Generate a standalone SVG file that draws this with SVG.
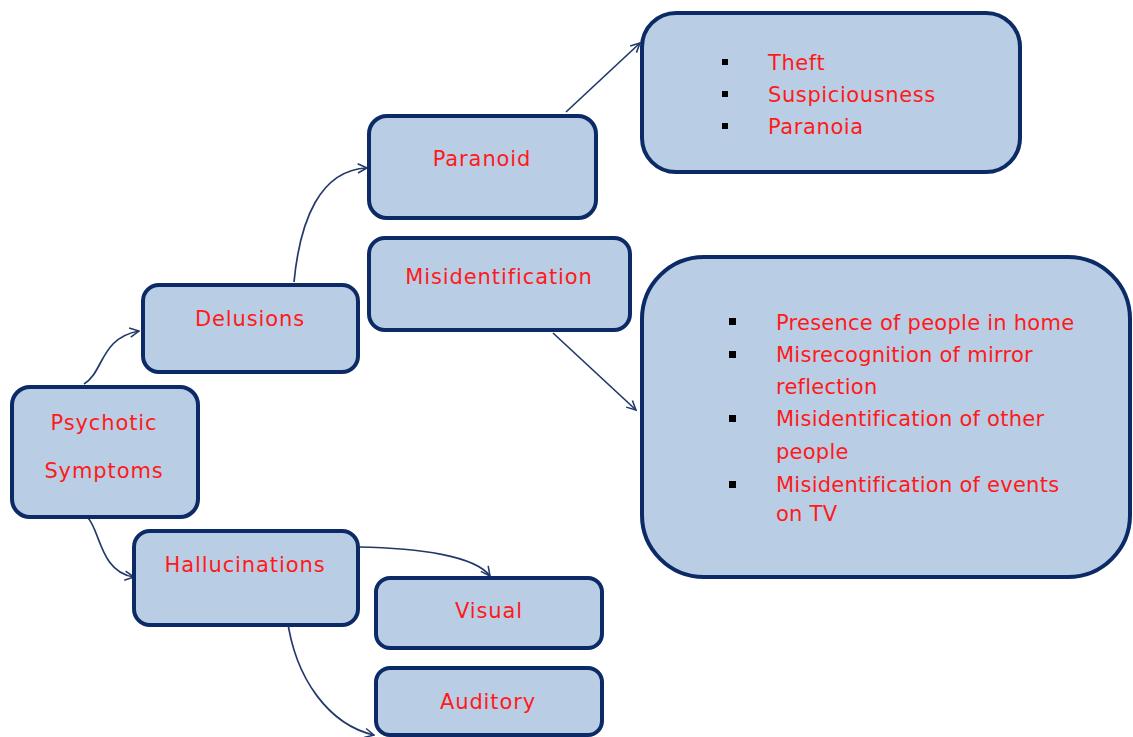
<svg xmlns="http://www.w3.org/2000/svg" width="1133" height="737" viewBox="0 0 1133 737">
  <style>
    .box { fill: #b9cde5; stroke: #0c2b66; stroke-width: 4; }
    .lbl { font-family: "DejaVu Sans", Verdana, sans-serif; font-size: 21px; fill: #ff1a1a; letter-spacing: 0.9px; text-anchor: middle; }
    .item { font-family: "DejaVu Sans", Verdana, sans-serif; font-size: 21px; fill: #ff1a1a; letter-spacing: 0.25px; }
    .wide { letter-spacing: 0.6px; }
    .bullet { fill: #000; }
    .conn { fill: none; stroke: #23396a; stroke-width: 1.7; marker-end: url(#arrow); }
  </style>
  <defs>
    <marker id="arrow" viewBox="0 0 12 12" refX="11" refY="6" markerWidth="11" markerHeight="11" markerUnits="userSpaceOnUse" orient="auto">
      <path d="M1,1 L11,6 L1,11" fill="none" stroke="#23396a" stroke-width="1.7"/>
    </marker>
  </defs>
  <rect width="1133" height="737" fill="#ffffff"/>

  <g id="connectors">
    <path class="conn" d="M84,384 C104,372 100,338 139,331"/>
    <path class="conn" d="M294,282 C300,220 320,170 367,168"/>
    <path class="conn" d="M566,112 L640,43"/>
    <path class="conn" d="M553,333 L636,410"/>
    <path class="conn" d="M88,518 C100,530 100,572 134,577"/>
    <path class="conn" d="M358,547 C420,548 475,556 490,576"/>
    <path class="conn" d="M287,617 C295,680 330,725 374,735"/>
  </g>

  <g id="psychotic-symptoms">
    <rect class="box" x="12" y="387" width="186" height="130" rx="18"/>
    <text class="lbl" x="104" y="430">Psychotic</text>
    <text class="lbl" x="104" y="478">Symptoms</text>
  </g>

  <g id="delusions">
    <rect class="box" x="143" y="285" width="215" height="87" rx="16"/>
    <text class="lbl" x="250" y="326">Delusions</text>
  </g>

  <g id="paranoid">
    <rect class="box" x="369" y="116" width="227" height="102" rx="18"/>
    <text class="lbl" x="482" y="166">Paranoid</text>
  </g>

  <g id="misidentification">
    <rect class="box" x="369" y="238" width="261" height="92" rx="16"/>
    <text class="lbl" x="499" y="284">Misidentification</text>
  </g>

  <g id="paranoid-details">
    <rect class="box" x="642" y="13" width="378" height="159" rx="34"/>
    <rect class="bullet" x="722" y="59" width="6" height="6"/>
    <rect class="bullet" x="722" y="91" width="6" height="6"/>
    <rect class="bullet" x="722" y="123" width="6" height="6"/>
    <text class="item wide" x="768" y="70">Theft</text>
    <text class="item wide" x="768" y="102">Suspiciousness</text>
    <text class="item wide" x="768" y="134">Paranoia</text>
  </g>

  <g id="misidentification-details">
    <rect class="box" x="642" y="257" width="488" height="320" rx="62"/>
    <rect class="bullet" x="729" y="318" width="7" height="7"/>
    <rect class="bullet" x="729" y="351" width="7" height="7"/>
    <rect class="bullet" x="729" y="415" width="7" height="7"/>
    <rect class="bullet" x="729" y="481" width="7" height="7"/>
    <text class="item" x="776" y="330">Presence of people in home</text>
    <text class="item" x="776" y="362">Misrecognition of mirror</text>
    <text class="item" x="776" y="394">reflection</text>
    <text class="item" x="776" y="426">Misidentification of other</text>
    <text class="item" x="776" y="459">people</text>
    <text class="item" x="776" y="492">Misidentification of events</text>
    <text class="item" x="776" y="521">on TV</text>
  </g>

  <g id="hallucinations">
    <rect class="box" x="134" y="531" width="224" height="94" rx="16"/>
    <text class="lbl" x="245" y="572">Hallucinations</text>
  </g>

  <g id="visual">
    <rect class="box" x="376" y="578" width="226" height="70" rx="14"/>
    <text class="lbl" x="489" y="618">Visual</text>
  </g>

  <g id="auditory">
    <rect class="box" x="376" y="668" width="226" height="67" rx="14"/>
    <text class="lbl" x="488" y="709">Auditory</text>
  </g>
</svg>
